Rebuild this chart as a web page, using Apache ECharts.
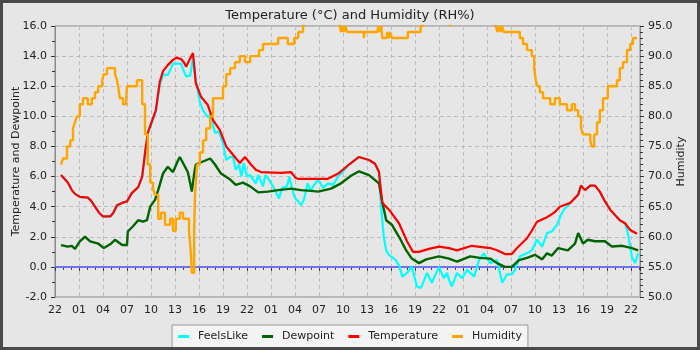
<!DOCTYPE html>
<html>
<head>
<meta charset="utf-8">
<script src="https://cdn.jsdelivr.net/npm/echarts@6/dist/echarts.min.js"></script>
<style>
  html, body { margin: 0; padding: 0; background: #e6e6e6; }
  #chart { width: 700px; height: 350px; }
</style>
</head>
<body>
<div id="chart"></div>
<script>
// Hours counted from 22:00 on the first day; readings as [hour, value].
const startHour = 22;
const spanHours = 73.125;

const feelsLike = [
  [0.75,6.1],[0.9,6.1],[1.6,5.6],[2.1,5.1],[2.5,4.85],[3.1,4.65],[4.1,4.6],[4.5,4.4],[5,4.0],[5.5,3.6],
  [6,3.35],[6.9,3.35],[7.3,3.6],[7.75,4.1],[8.4,4.25],[9,4.35],[9.6,4.9],[10.4,5.3],[10.9,6.0],[11.25,7.55],
  [11.6,8.9],[12.1,9.6],[12.6,10.3],[13.1,12.1],[13.5,12.75],[14.1,12.75],[14.5,13.2],[14.75,13.5],[15.75,13.5],
  [16.1,13.0],[16.4,12.65],[16.9,12.7],[17.25,13.9],[17.6,12.4],[18.1,11.0],[18.5,10.4],[18.9,10.1],[19.25,9.9],
  [19.5,10.3],[19.75,9.4],[20,8.9],[20.5,9.0],[21,8.2],[21.4,7.1],[21.9,7.3],[22.25,7.3],[22.6,6.45],[23,6.8],
  [23.3,6.0],[23.6,6.9],[24,6.0],[24.4,6.1],[25.1,5.55],[25.4,6.1],[26,5.35],[26.3,6.1],[26.75,5.8],[27.25,5.35],
  [28,4.55],[28.4,5.25],[29,5.35],[29.3,6.0],[29.9,4.65],[30.4,4.35],[30.75,4.1],[31.1,4.45],[31.6,5.55],[32,5.0],
  [32.25,5.35],[32.9,5.8],[33.5,5.25],[34.1,5.55],[34.75,5.45],[35.4,6.0],[36.1,6.4],[36.75,6.8],[38,7.3],
  [39.25,7.1],[40,6.85],[40.5,6.3],[40.75,4.0],[41.1,2.0],[41.4,1.1],[41.75,0.8],[42.6,0.45],[43.1,0.0],
  [43.4,-0.65],[44,-0.4],[44.6,0.0],[45.25,-1.3],[45.75,-1.4],[46.5,-0.4],[47.1,-1.05],[48,0.0],[48.6,-0.75],
  [49,-0.4],[49.25,-0.85],[49.6,-1.3],[50.25,-0.4],[50.9,-0.75],[51.5,-0.2],[52.4,-0.65],[53,0.45],[53.6,0.9],
  [54.4,0.25],[55.25,0.45],[55.9,-1.05],[56.5,-0.5],[57.1,-0.5],[57.5,-0.2],[58.1,0.7],[59,0.9],[59.6,1.1],
  [60.25,1.8],[60.9,1.35],[61.5,2.25],[62.1,2.35],[62.75,2.8],[63.25,3.45],[63.6,3.8],[64.4,4.25],[65.4,4.8],
  [65.75,5.4],[66.25,5.1],[66.9,5.4],[67.5,5.4],[68.1,5.0],[68.75,4.35],[69.4,3.8],[70.6,3.1],[71.25,2.9],
  [71.6,2.25],[72.1,0.7],[72.5,0.25],[72.9,0.9]
];

const dewpoint = [
  [0.75,1.45],[1.6,1.35],[2.1,1.4],[2.5,1.2],[3.1,1.7],[3.75,2.0],[4.4,1.7],[5.4,1.55],[6.1,1.25],[6.9,1.5],
  [7.5,1.8],[8.4,1.45],[9,1.45],[9.1,2.35],[9.75,2.7],[10.4,3.1],[11,3.0],[11.5,3.1],[11.9,4.0],[12.5,4.45],
  [12.9,5.1],[13.5,6.2],[14.1,6.65],[14.75,6.3],[15.4,7.1],[15.6,7.3],[16.25,6.65],[16.6,6.3],[16.9,5.55],
  [17.1,5.0],[17.4,6.2],[17.6,6.8],[18.5,7.0],[19.4,7.2],[20,6.8],[20.75,6.2],[21.9,5.8],[22.6,5.45],[23.5,5.6],
  [24.4,5.35],[25.4,4.95],[26.6,5.0],[27.9,5.1],[29.5,5.2],[30.75,5.1],[32,5.05],[32.9,5.0],[34.5,5.2],
  [35.75,5.55],[37,6.05],[38,6.35],[39.25,6.1],[40.5,5.55],[40.9,4.35],[41.4,3.1],[42.1,2.8],[43,2.0],[43.9,1.1],
  [44.6,0.55],[45.5,0.25],[46.4,0.5],[48,0.7],[49.25,0.55],[50.25,0.35],[51.9,0.7],[53.1,0.6],[54.4,0.55],
  [55.25,0.25],[56.25,0.0],[57.1,0.0],[58,0.45],[59,0.6],[60,0.8],[60.9,0.5],[61.5,0.9],[62.1,0.75],[62.9,1.25],
  [64.1,1.1],[65,1.55],[65.4,2.25],[66,1.55],[66.6,1.8],[67.5,1.7],[68.75,1.7],[69.6,1.35],[70.9,1.4],
  [72.1,1.25],[72.9,1.1]
];

const temperature = [
  [0.75,6.1],[0.9,6.1],[1.6,5.6],[2.1,5.1],[2.5,4.85],[3.1,4.65],[4.1,4.6],[4.5,4.4],[5,4.0],[5.5,3.6],
  [6,3.35],[6.9,3.35],[7.3,3.6],[7.75,4.1],[8.4,4.25],[9,4.35],[9.6,4.9],[10.4,5.3],[10.9,6.0],[11.25,7.55],
  [11.6,8.9],[12.1,9.65],[12.6,10.4],[13.1,12.3],[13.5,13.0],[14.1,13.4],[14.75,13.75],[15.2,13.9],[15.75,13.8],
  [16.1,13.6],[16.4,13.3],[16.9,13.85],[17.25,14.2],[17.6,12.2],[18.25,11.3],[19.1,10.75],[19.75,9.75],
  [20.6,9.1],[21.4,8.0],[22.25,7.45],[23.1,6.9],[23.75,7.3],[24.5,6.8],[25.1,6.45],[25.75,6.3],[28.25,6.25],
  [29.5,6.3],[30.1,5.9],[30.4,5.85],[34.1,5.85],[35.4,6.2],[36.75,6.8],[38,7.3],[39.25,7.1],[40,6.85],[40.5,6.3],
  [40.9,4.25],[41.75,3.8],[43,2.9],[44,1.7],[44.75,1.0],[45.5,1.0],[46.75,1.2],[48,1.35],[49.25,1.25],
  [50.25,1.1],[52.1,1.4],[54.4,1.25],[55.25,1.1],[56.25,0.85],[57.1,0.85],[57.75,1.25],[59,1.9],[59.6,2.4],
  [60.25,3.0],[61.5,3.3],[62.4,3.6],[63.1,4.0],[64.4,4.25],[65.4,4.8],[65.75,5.4],[66.25,5.1],[66.9,5.4],
  [67.5,5.4],[68.1,5.0],[68.75,4.35],[69.4,3.8],[70.6,3.1],[71.25,2.9],[71.9,2.45],[72.75,2.2]
];

const humidity = [
  [0.75,72],[1,73],[1.5,75],[1.9,76],[2.25,78],[2.5,79],[2.75,80],[3.1,82],[3.5,83],[4.1,82],[4.6,83],[5,84],
  [5.4,85],[5.9,86],[6.1,87],[6.5,88],[7.5,87],[7.75,86],[8,84],[8.1,83],[8.5,82],[8.9,83],[9,85],[10.25,86],
  [10.9,82],[11.25,77],[11.6,72],[11.9,69],[12.25,68],[12.5,67],[12.9,63],[13.25,64],[13.75,62],[14.4,63],
  [14.75,61],[15.1,63],[15.6,64],[16,63],[16.75,61],[17,57],[17.1,54],[17.4,61],[17.5,67],[17.75,72],[18.1,74],
  [18.5,76],[18.9,78],[19.4,80],[19.75,83],[21,85],[21.4,87],[21.9,88],[22.5,89],[23.1,90],[23.75,89],
  [24.4,90],[25.5,91],[26,92],[27.9,93],[29.1,92],[29.9,93],[30.4,94],[31,95],[31.25,96],[35.5,96],[35.6,95],
  [35.75,94],[35.9,95],[36.1,94],[36.3,95],[36.5,94],[38.6,93],[38.7,94],[40.3,94],[40.4,95],[40.6,94],
  [40.8,95],[40.9,93],[41.5,94],[41.7,93],[41.9,94],[42.1,93],[44.1,94],[45.7,95],[46,96],[49.3,96],[49.4,95],
  [49.5,96],[55,96],[55.1,95],[55.3,94],[55.5,95],[55.7,94],[55.9,95],[56.1,94],[58.1,93],[58.5,92],[59,91],
  [59.6,90],[59.9,88],[60.1,86],[60.3,85],[60.6,84],[61,83],[61.9,82],[62.5,83],[63.1,82],[64,81],[64.6,82],
  [65,81],[65.4,80],[65.75,78],[66,77],[66.9,76],[67.1,75],[67.4,77],[67.75,79],[68.1,81],[68.5,83],[69.1,85],
  [70.25,86],[70.6,88],[71,89],[71.5,91],[71.9,92],[72.25,93],[72.75,93]
];

const zeroLine = [[0,0],[spanHours,0]];

const tempTicks = { min: -2, max: 16, step: 2 };
const humTicks = { min: 50, max: 95, step: 5 };

const font = 'DejaVu Sans';
const textColor = '#222';
const axisColor = '#8a8a8a';

const chart = echarts.init(document.getElementById('chart'), null, { renderer: 'canvas' });

function pad2(n) { return (n < 10 ? '0' : '') + n; }

chart.setOption({
  animation: false,
  backgroundColor: '#e6e6e6',
  textStyle: { fontFamily: font },
  title: {
    text: 'Temperature (\u00b0C) and Humidity (RH%)',
    left: 'center', top: 4,
    textStyle: { fontFamily: font, fontSize: 13, fontWeight: 'normal', color: textColor }
  },
  graphic: [{
    type: 'rect', silent: true, z: 100,
    shape: { x: 1.5, y: 1.5, width: 697, height: 347 },
    style: { fill: 'none', stroke: '#4a4a4a', lineWidth: 3 }
  }],
  legend: {
    data: ['FeelsLike', 'Dewpoint', 'Temperature', 'Humidity'],
    left: 'center', bottom: 2,
    backgroundColor: '#f4f4f4', borderColor: '#9a9a9a', borderWidth: 1, borderRadius: 0,
    padding: [6, 6, 6, 6],
    itemGap: 14, itemWidth: 11, itemHeight: 3, icon: 'rect',
    textStyle: { fontFamily: font, fontSize: 11, color: textColor, padding: [0, 0, 0, 4] }
  },
  grid: {
    left: 55, right: 60, top: 26, bottom: 53,
    outerBoundsMode: 'none', containLabel: false,
    show: true, borderColor: axisColor, borderWidth: 1, backgroundColor: 'transparent'
  },
  xAxis: {
    type: 'value', min: 0, max: spanHours, interval: 3,
    axisLine: { lineStyle: { color: axisColor } },
    axisTick: { length: 4, lineStyle: { color: '#333' } },
    minorTick: { show: true, splitNumber: 3, length: 3, lineStyle: { color: '#333' } },
    splitLine: { show: true, lineStyle: { color: '#bdbdbd', type: [4, 3] } },
    axisLabel: {
      fontFamily: font, fontSize: 11, color: textColor, margin: 8, showMaxLabel: false,
      formatter: v => pad2((startHour + Math.round(v)) % 24)
    }
  },
  yAxis: [{
    type: 'value', min: tempTicks.min, max: tempTicks.max, interval: tempTicks.step,
    name: 'Temperature and Dewpoint', nameLocation: 'middle', nameGap: 33, nameMoveOverlap: false,
    nameTextStyle: { fontFamily: font, fontSize: 11, color: textColor },
    axisLine: { show: true, lineStyle: { color: axisColor } },
    axisTick: { show: true, length: 4, lineStyle: { color: '#333' } },
    minorTick: { show: true, splitNumber: 2, length: 3, lineStyle: { color: '#333' } },
    splitLine: { show: true, lineStyle: { color: '#bdbdbd', type: [4, 3] } },
    axisLabel: { fontFamily: font, fontSize: 11, color: textColor, margin: 8, formatter: v => v.toFixed(1) }
  }, {
    type: 'value', min: humTicks.min, max: humTicks.max, interval: humTicks.step, position: 'right',
    name: 'Humidity', nameLocation: 'middle', nameGap: 36, nameMoveOverlap: false,
    nameTextStyle: { fontFamily: font, fontSize: 11, color: textColor },
    axisLine: { show: true, lineStyle: { color: axisColor } },
    axisTick: { show: true, length: 4, lineStyle: { color: '#333' } },
    minorTick: { show: true, splitNumber: 5, length: 3, lineStyle: { color: '#333' } },
    splitLine: { show: false },
    axisLabel: { fontFamily: font, fontSize: 11, color: textColor, margin: 8, formatter: v => v.toFixed(1) }
  }],
  series: [
    {
      name: 'zero', type: 'line', data: zeroLine, yAxisIndex: 0, symbol: 'none', silent: true,
      lineStyle: { color: '#7272ee', width: 2 }
    },
    {
      name: 'FeelsLike', type: 'line', data: feelsLike, yAxisIndex: 0, symbol: 'none', clip: true,
      color: '#00ffff', lineStyle: { color: '#00ffff', width: 2.2 }
    },
    {
      name: 'Dewpoint', type: 'line', data: dewpoint, yAxisIndex: 0, symbol: 'none', clip: true,
      color: '#006400', lineStyle: { color: '#006400', width: 2.4 }
    },
    {
      name: 'Temperature', type: 'line', data: temperature, yAxisIndex: 0, symbol: 'none', clip: true,
      color: '#ff0000', lineStyle: { color: '#ff0000', width: 2.2 }
    },
    {
      name: 'Humidity', type: 'line', data: humidity, yAxisIndex: 1, symbol: 'none', clip: true, step: 'end',
      color: '#ffa500', lineStyle: { color: '#ffa500', width: 2.4 }
    }
  ]
});
</script>
</body>
</html>
